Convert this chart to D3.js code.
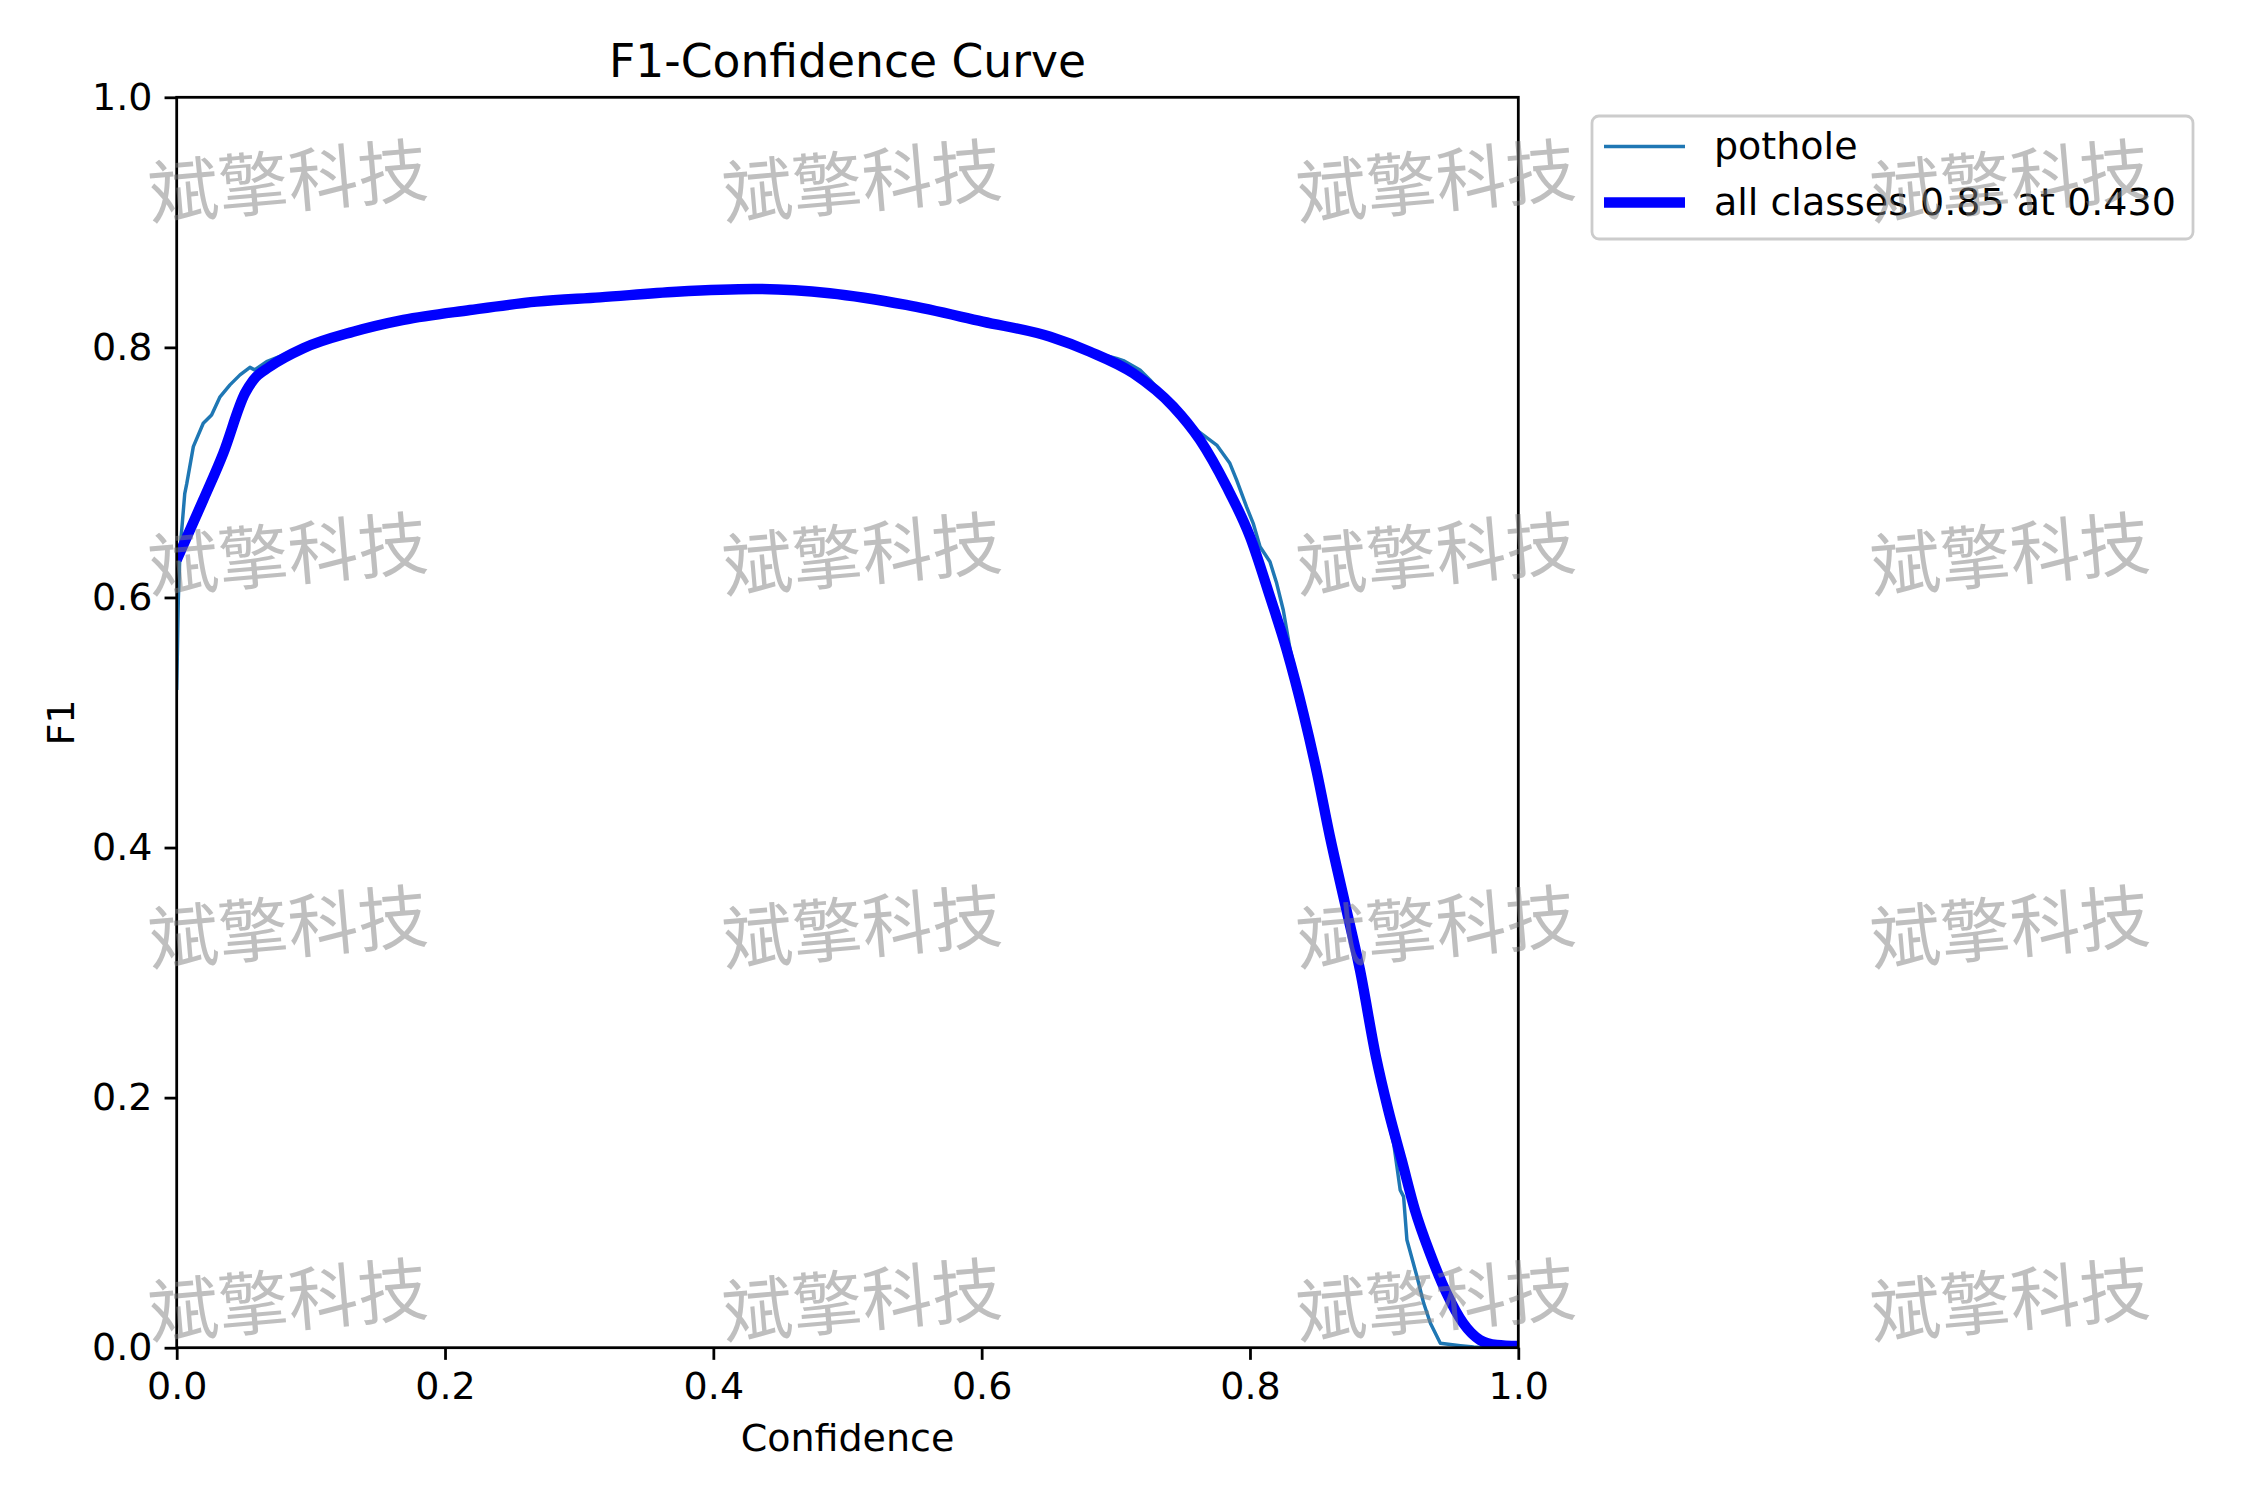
<!DOCTYPE html>
<html>
<head>
<meta charset="utf-8">
<script src="https://cdn.jsdelivr.net/npm/d3@7"></script>
<style>
	body { margin: 0; background: #fff; }
	text { font-family: 'DejaVu Sans', sans-serif; }
</style>
</head>
<body>
<script>
const width = 2250
const height = 1500
const margin = { top: 97.3, right: 731.7, bottom: 152.3, left: 176.7 }
const innerWidth = width - margin.left - margin.right
const innerHeight = height - margin.top - margin.bottom

const pt = 250 / 72
const fontSize = 38

// values
const seriesNames = ['pothole', 'all classes']
const xTicks = [0, 0.2, 0.4, 0.6, 0.8, 1.0]
const yTicks = [0, 0.2, 0.4, 0.6, 0.8, 1.0]

const potholeConf = [0, 0.0012, 0.0025, 0.006, 0.0075, 0.0124, 0.0198, 0.026, 0.0323, 0.0397,
	0.0472, 0.0546, 0.058, 0.067, 0.075, 0.0944, 0.1316, 0.169, 0.2186, 0.2683,
	0.3155, 0.3725, 0.43, 0.4755, 0.4867, 0.5438, 0.6008, 0.6511, 0.6807, 0.7006,
	0.7056, 0.718, 0.7255, 0.7428, 0.7603, 0.7752, 0.785, 0.79, 0.7974, 0.8024,
	0.8075, 0.8149, 0.8199, 0.8248, 0.83, 0.8415, 0.8512, 0.861, 0.8722, 0.8832,
	0.8948, 0.901, 0.9071, 0.912, 0.9145, 0.917, 0.9245, 0.9295, 0.9345, 0.9419,
	0.9568, 0.9667, 0.975, 1.0]
const potholeF1 = [0.526, 0.598, 0.638, 0.683, 0.691, 0.7206, 0.7393, 0.746, 0.7605, 0.770,
	0.778, 0.784, 0.782, 0.7886, 0.792, 0.7995, 0.8128, 0.8222, 0.830, 0.8368,
	0.8402, 0.8447, 0.8469, 0.8465, 0.8435, 0.834, 0.8208, 0.8087, 0.7967, 0.7912,
	0.7894, 0.7819, 0.7739, 0.753, 0.7339, 0.7219, 0.7073, 0.694, 0.6726, 0.6593,
	0.6406, 0.6286, 0.6113, 0.59, 0.558, 0.5073, 0.461, 0.4087, 0.3554, 0.302,
	0.2327, 0.19, 0.1635, 0.126, 0.1208, 0.0861, 0.0568, 0.0355, 0.0195, 0.0035,
	0.0016, 0.0005, 0, 0]

const allConf = [0, 0.0198, 0.0347, 0.0509, 0.0571, 0.0695, 0.0944, 0.1316, 0.169, 0.2186,
	0.2683, 0.3155, 0.3725, 0.43, 0.4867, 0.5438, 0.6008, 0.6511, 0.6807, 0.713,
	0.7428, 0.7627, 0.7826, 0.80, 0.8149, 0.8274, 0.8398, 0.8497, 0.8596, 0.8708,
	0.882, 0.8939, 0.9031, 0.9131, 0.923, 0.9342, 0.9466, 0.959, 0.9714, 0.9839, 1.0]
const allF1 = [0.630, 0.678, 0.7153, 0.7633, 0.7739, 0.7846, 0.7993, 0.8125, 0.822, 0.8299,
	0.8366, 0.840, 0.8445, 0.8467, 0.8433, 0.8339, 0.8206, 0.8085, 0.7965, 0.7793,
	0.7526, 0.726, 0.6886, 0.6486, 0.6006, 0.558, 0.5073, 0.461, 0.4087, 0.3554,
	0.302, 0.2327, 0.190, 0.150, 0.110, 0.0755, 0.0435, 0.0195, 0.0062, 0.0022, 0.0013]

const watermark = '斌擎科技'

const potholeData = potholeConf.map((c, i) => ({ c, f: potholeF1[i] }))
const allData = allConf.map((c, i) => ({ c, f: allF1[i] }))

const best = d3.maxIndex(allF1)
const allLabel = `${seriesNames[1]} ${allF1[best].toFixed(2)} at ${allConf[best].toFixed(3)}`

const xScale = d3.scaleLinear()
	.domain([0, 1])
	.range([0, innerWidth])

const yScale = d3.scaleLinear()
	.domain([0, 1])
	.range([innerHeight, 0])

const svg = d3.select('body')
	.append('svg')
	.attr('width', width)
	.attr('height', height)

svg.append('rect')
	.attr('width', width)
	.attr('height', height)
	.attr('fill', '#fff')

svg.append('defs')
	.append('clipPath')
	.attr('id', 'plot-clip')
	.append('rect')
	.attr('width', innerWidth)
	.attr('height', innerHeight)

const g = svg.append('g')
	.attr('transform', `translate(${margin.left},${margin.top})`)

const lineMaker = d3.line()
	.x(d => xScale(d.c))
	.y(d => yScale(d.f))

const plot = g.append('g')
	.attr('clip-path', 'url(#plot-clip)')

plot.append('path')
	.attr('d', lineMaker(potholeData))
	.attr('fill', 'none')
	.attr('stroke', '#1f77b4')
	.attr('stroke-width', 1 * pt)
	.attr('stroke-linejoin', 'round')

plot.append('path')
	.attr('d', lineMaker.curve(d3.curveMonotoneX)(allData))
	.attr('fill', 'none')
	.attr('stroke', '#0000ff')
	.attr('stroke-width', 3 * pt)
	.attr('stroke-linejoin', 'round')

// axes
const xAxis = d3.axisBottom(xScale)
	.tickValues(xTicks)
	.tickFormat(d3.format('.1f'))
	.tickSize(3.5 * pt)
	.tickSizeOuter(0)
	.tickPadding(3.5 * pt)

const yAxis = d3.axisLeft(yScale)
	.tickValues(yTicks)
	.tickFormat(d3.format('.1f'))
	.tickSize(3.5 * pt)
	.tickSizeOuter(0)
	.tickPadding(3.5 * pt)

const styleAxis = sel => {
	sel.select('.domain').remove()
	sel.selectAll('line')
		.attr('stroke', '#000')
		.attr('stroke-width', 0.8 * pt)
	sel.selectAll('text')
		.attr('fill', '#000')
		.style('font-size', `${fontSize}px`)
		.style('font-family', "'DejaVu Sans', sans-serif")
}

g.append('g')
	.attr('transform', `translate(0,${innerHeight})`)
	.call(xAxis)
	.call(styleAxis)
	.selectAll('text')
	.attr('dy', '0.72em')

g.append('g')
	.call(yAxis)
	.call(styleAxis)

g.append('rect')
	.attr('width', innerWidth)
	.attr('height', innerHeight)
	.attr('fill', 'none')
	.attr('stroke', '#000')
	.attr('stroke-width', 0.8 * pt)

svg.append('text')
	.attr('x', margin.left + innerWidth / 2)
	.attr('y', 76.5)
	.attr('text-anchor', 'middle')
	.style('font-size', `${fontSize * 1.2}px`)
	.text('F1-Confidence Curve')

svg.append('text')
	.attr('x', margin.left + innerWidth / 2)
	.attr('y', 1451)
	.attr('text-anchor', 'middle')
	.style('font-size', `${fontSize}px`)
	.text('Confidence')

svg.append('text')
	.attr('transform', `translate(74,${margin.top + innerHeight / 2}) rotate(-90)`)
	.attr('text-anchor', 'middle')
	.style('font-size', `${fontSize}px`)
	.text('F1')

// legend
const legend = svg.append('g')
	.attr('transform', 'translate(1592,116)')

legend.append('rect')
	.attr('width', 601)
	.attr('height', 123)
	.attr('rx', 7)
	.attr('fill', '#fff')
	.attr('fill-opacity', 0.8)
	.attr('stroke', '#cccccc')
	.attr('stroke-width', 0.8 * pt)

const legendItems = [
	{ label: seriesNames[0], color: '#1f77b4', w: 1 * pt },
	{ label: allLabel, color: '#0000ff', w: 3 * pt }
]

const item = legend.selectAll('.item')
	.data(legendItems)
	.enter()
	.append('g')
	.attr('class', 'item')
	.attr('transform', (d, i) => `translate(0,${43 + i * 56})`)

item.append('line')
	.attr('x1', 12)
	.attr('x2', 93)
	.attr('y1', -12.5)
	.attr('y2', -12.5)
	.attr('stroke', d => d.color)
	.attr('stroke-width', d => d.w)

item.append('text')
	.attr('x', 122)
	.style('font-size', `${fontSize}px`)
	.text(d => d.label)

// watermark grid on top
const wmCols = d3.range(4).map(i => 288 + i * 574)
const wmRows = d3.range(4).map(i => 182 + i * 373)
svg.append('g')
	.selectAll('text')
	.data(d3.cross(wmRows, wmCols))
	.enter()
	.append('text')
	.attr('transform', d => `translate(${d[1]},${d[0]}) rotate(-5)`)
	.attr('text-anchor', 'middle')
	.attr('dy', '0.36em')
	.style('font-family', "'Noto Sans CJK SC', sans-serif")
	.style('font-size', '70px')
	.attr('fill', '#808080')
	.attr('fill-opacity', 0.5)
	.text(watermark)
</script>
</body>
</html>
